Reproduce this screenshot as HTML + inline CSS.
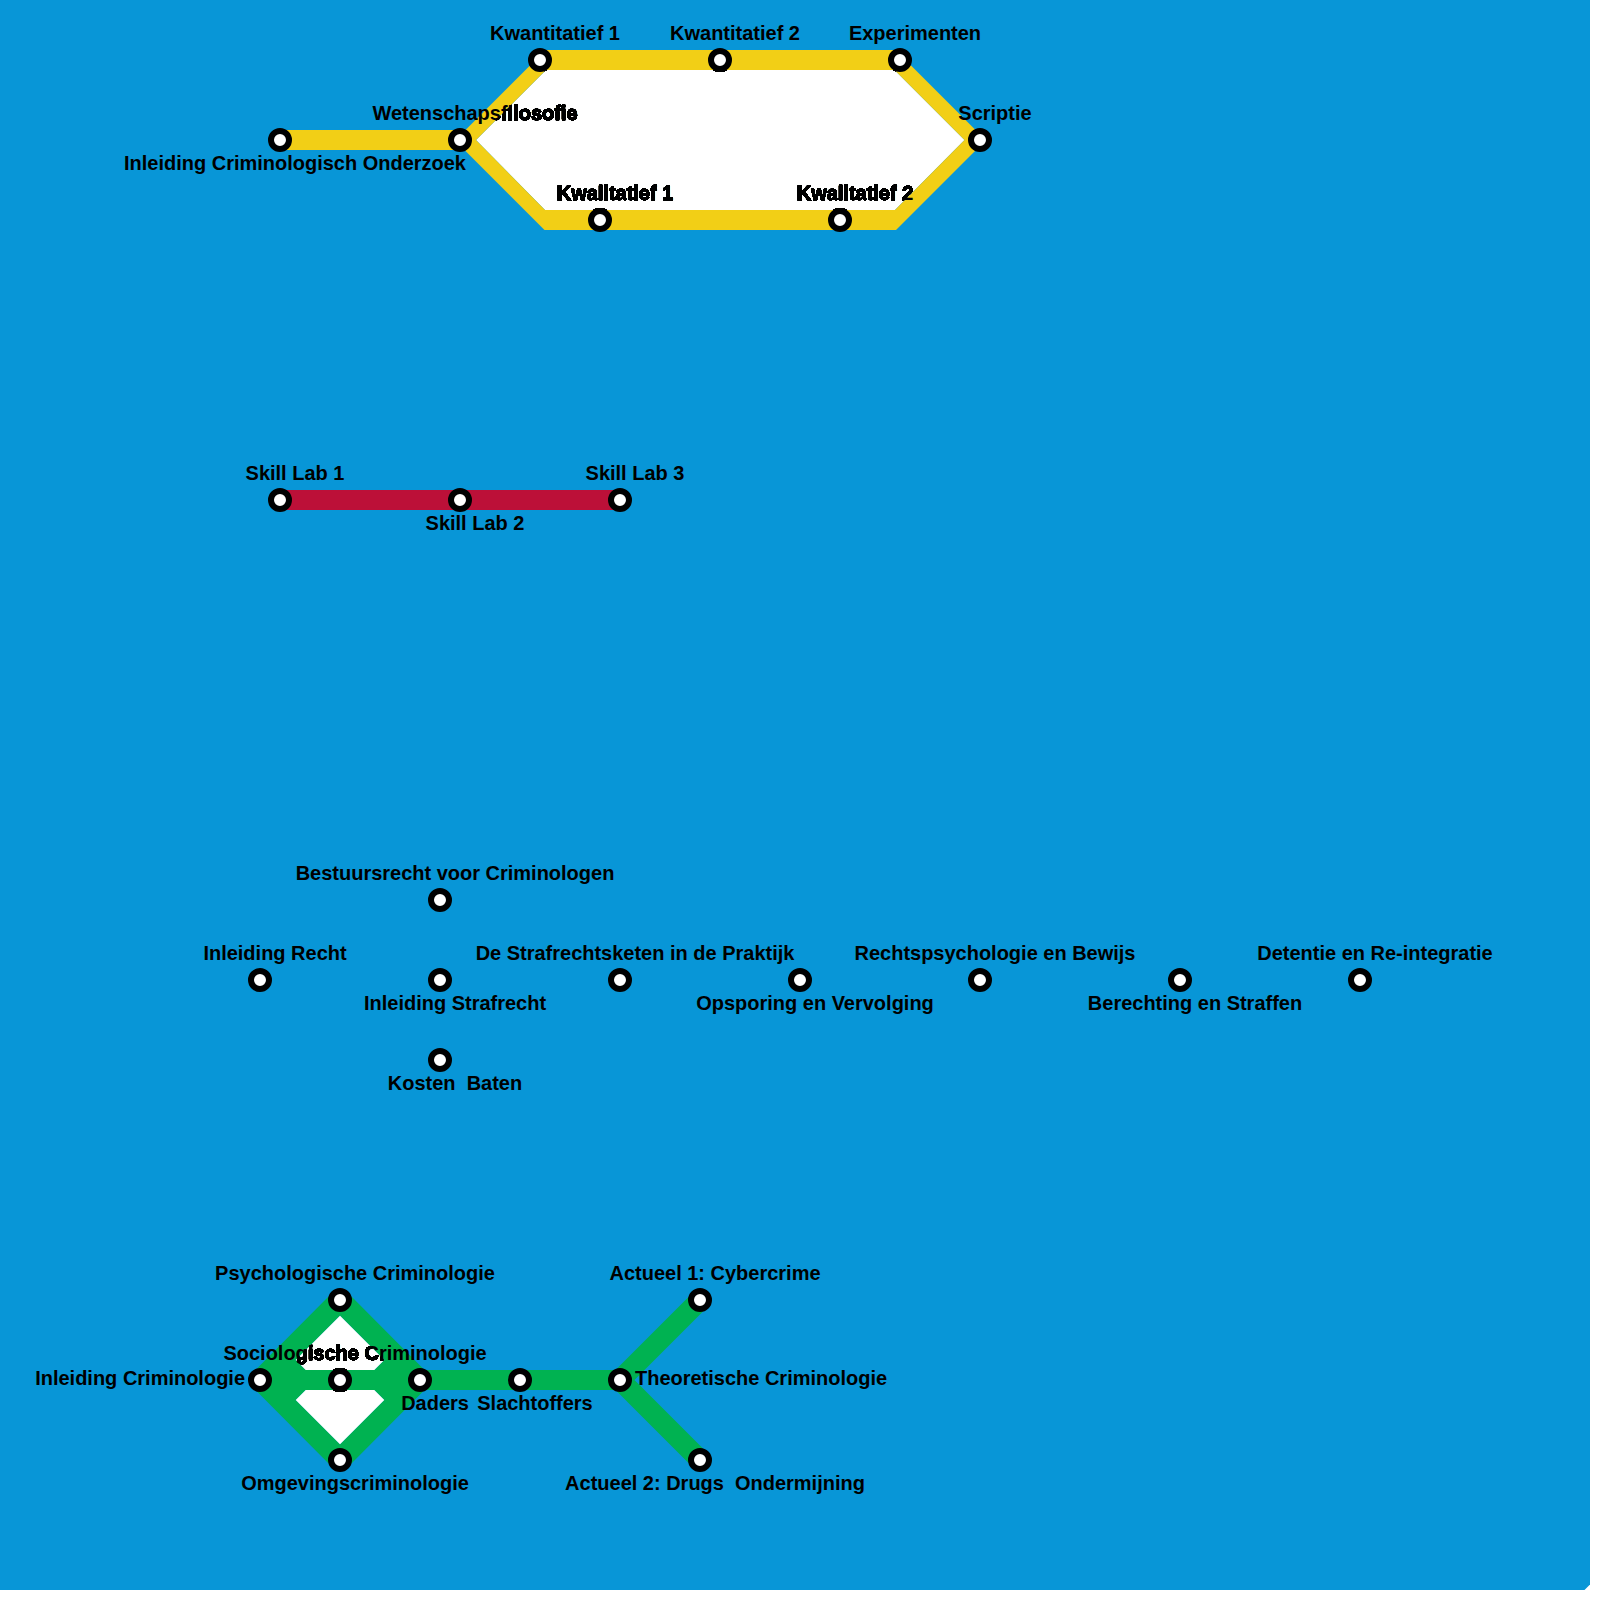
<!DOCTYPE html>
<html><head><meta charset="utf-8"><title>Metro map</title>
<style>
html,body{margin:0;padding:0;background:#fff;}
body{width:1600px;height:1600px;overflow:hidden;}
svg{display:block;}
text{font-family:"Liberation Sans",sans-serif;font-weight:bold;font-size:20px;fill:#000;white-space:pre;}
.st circle{fill:#fff;stroke:#000;stroke-width:6;}
.thb text{stroke:#000;stroke-width:0.3px;}
</style></head><body>
<svg width="1600" height="1600" viewBox="0 0 1600 1600" xml:space="preserve">
<defs><clipPath id="wc"><polygon points="476,140 546,70 894.5,70 964.5,140 895,210 545,210" fill="#000"/><polygon points="340,1315.5 384.5,1360 374.5,1370 305.5,1370 295.5,1360" fill="#000"/><polygon points="340,1444.5 384.5,1400 374.5,1390 305.5,1390 295.5,1400" fill="#000"/></clipPath><filter id="th" filterUnits="userSpaceOnUse" x="0" y="0" width="1600" height="1600" color-interpolation-filters="sRGB"><feComponentTransfer><feFuncA type="linear" slope="60" intercept="0"/></feComponentTransfer></filter></defs>
<g><polygon points="0,0 1590,0 1590,1584.5 1584.5,1590 0,1590" fill="#0896d7"/>
<polygon points="476,140 546,70 894.5,70 964.5,140 895,210 545,210" fill="#fff"/>
<polygon points="340,1315.5 384.5,1360 374.5,1370 305.5,1370 295.5,1360" fill="#fff"/>
<polygon points="340,1444.5 384.5,1400 374.5,1390 305.5,1390 295.5,1400" fill="#fff"/>
<path fill="#f2cf16" fill-rule="evenodd" d="M280,130 L465.5,130 L545.5,50 L895.5,50 L975.5,130 L976,150 L896,230 L544.5,230 L464.5,150 L280,150 Z M476,140 L546,70 L894.5,70 L964.5,140 L895,210 L545,210 Z"/>
<rect x="280" y="490" width="340" height="20" fill="#bc1038"/>
<path fill="#00b251" fill-rule="evenodd" d="M254.5,1371 L334.5,1290.5 L345.5,1290.5 L425.5,1371 L425.5,1389 L345.5,1469.5 L334.5,1469.5 L254.5,1389 Z M340,1315.5 L384.5,1360 L374.5,1370 L305.5,1370 L295.5,1360 Z M340,1444.5 L384.5,1400 L374.5,1390 L305.5,1390 L295.5,1400 Z"/>
<rect x="420" y="1370" width="200" height="20" fill="#00b251"/>
<path d="M700,1300 L620,1380 L700,1460" fill="none" stroke="#00b251" stroke-width="20.5" stroke-linejoin="miter"/></g>
<g class="st"><circle cx="280" cy="140" r="9"/>
<circle cx="460" cy="140" r="9"/>
<circle cx="540" cy="60" r="9"/>
<circle cx="720" cy="60" r="9"/>
<circle cx="900" cy="60" r="9"/>
<circle cx="980" cy="140" r="9"/>
<circle cx="600" cy="220" r="9"/>
<circle cx="840" cy="220" r="9"/>
<circle cx="280" cy="500" r="9"/>
<circle cx="460" cy="500" r="9"/>
<circle cx="620" cy="500" r="9"/>
<circle cx="440" cy="900" r="9"/>
<circle cx="260" cy="980" r="9"/>
<circle cx="440" cy="980" r="9"/>
<circle cx="620" cy="980" r="9"/>
<circle cx="800" cy="980" r="9"/>
<circle cx="980" cy="980" r="9"/>
<circle cx="1180" cy="980" r="9"/>
<circle cx="1360" cy="980" r="9"/>
<circle cx="440" cy="1060" r="9"/>
<circle cx="260" cy="1380" r="9"/>
<circle cx="340" cy="1300" r="9"/>
<circle cx="340" cy="1380" r="9"/>
<circle cx="340" cy="1460" r="9"/>
<circle cx="420" cy="1380" r="9"/>
<circle cx="520" cy="1380" r="9"/>
<circle cx="620" cy="1380" r="9"/>
<circle cx="700" cy="1300" r="9"/>
<circle cx="700" cy="1460" r="9"/></g>
<g class="lbl"><text transform="translate(295 170) scale(1 1.045)" text-anchor="middle">Inleiding Criminologisch Onderzoek</text>
<text transform="translate(475 120) scale(1 1.045)" text-anchor="middle">Wetenschapsfilosofie</text>
<text transform="translate(555 40) scale(1 1.045)" text-anchor="middle">Kwantitatief 1</text>
<text transform="translate(735 40) scale(1 1.045)" text-anchor="middle">Kwantitatief 2</text>
<text transform="translate(915 40) scale(1 1.045)" text-anchor="middle">Experimenten</text>
<text transform="translate(995 120) scale(1 1.045)" text-anchor="middle">Scriptie</text>
<text transform="translate(615 200) scale(1 1.045)" text-anchor="middle">Kwalitatief 1</text>
<text transform="translate(855 200) scale(1 1.045)" text-anchor="middle">Kwalitatief 2</text>
<text transform="translate(295 480) scale(1 1.045)" text-anchor="middle">Skill Lab 1</text>
<text transform="translate(475 530) scale(1 1.045)" text-anchor="middle">Skill Lab 2</text>
<text transform="translate(635 480) scale(1 1.045)" text-anchor="middle">Skill Lab 3</text>
<text transform="translate(455 880) scale(1 1.045)" text-anchor="middle">Bestuursrecht voor Criminologen</text>
<text transform="translate(275 960) scale(1 1.045)" text-anchor="middle">Inleiding Recht</text>
<text transform="translate(455 1010) scale(1 1.045)" text-anchor="middle">Inleiding Strafrecht</text>
<text transform="translate(635 960) scale(1 1.045)" text-anchor="middle">De Strafrechtsketen in de Praktijk</text>
<text transform="translate(815 1010) scale(1 1.045)" text-anchor="middle">Opsporing en Vervolging</text>
<text transform="translate(995 960) scale(1 1.045)" text-anchor="middle">Rechtspsychologie en Bewijs</text>
<text transform="translate(1195 1010) scale(1 1.045)" text-anchor="middle">Berechting en Straffen</text>
<text transform="translate(1375 960) scale(1 1.045)" text-anchor="middle">Detentie en Re-integratie</text>
<text transform="translate(455 1090) scale(1 1.045)" text-anchor="middle">Kosten  Baten</text>
<text transform="translate(245 1385) scale(1 1.045)" text-anchor="end">Inleiding Criminologie</text>
<text transform="translate(355 1280) scale(1 1.045)" text-anchor="middle">Psychologische Criminologie</text>
<text transform="translate(355 1360) scale(1 1.045)" text-anchor="middle">Sociologische Criminologie</text>
<text transform="translate(355 1490) scale(1 1.045)" text-anchor="middle">Omgevingscriminologie</text>
<text transform="translate(435 1410) scale(1 1.045)" text-anchor="middle">Daders</text>
<text transform="translate(535 1410) scale(1 1.045)" text-anchor="middle">Slachtoffers</text>
<text transform="translate(635 1385) scale(1 1.045)" text-anchor="start">Theoretische Criminologie</text>
<text transform="translate(715 1280) scale(1 1.045)" text-anchor="middle">Actueel 1: Cybercrime</text>
<text transform="translate(715 1490) scale(1 1.045)" text-anchor="middle">Actueel 2: Drugs  Ondermijning</text></g>
<g clip-path="url(#wc)"><g filter="url(#th)" class="thb"><g class="st"><circle cx="280" cy="140" r="9"/>
<circle cx="460" cy="140" r="9"/>
<circle cx="540" cy="60" r="9"/>
<circle cx="720" cy="60" r="9"/>
<circle cx="900" cy="60" r="9"/>
<circle cx="980" cy="140" r="9"/>
<circle cx="600" cy="220" r="9"/>
<circle cx="840" cy="220" r="9"/>
<circle cx="280" cy="500" r="9"/>
<circle cx="460" cy="500" r="9"/>
<circle cx="620" cy="500" r="9"/>
<circle cx="440" cy="900" r="9"/>
<circle cx="260" cy="980" r="9"/>
<circle cx="440" cy="980" r="9"/>
<circle cx="620" cy="980" r="9"/>
<circle cx="800" cy="980" r="9"/>
<circle cx="980" cy="980" r="9"/>
<circle cx="1180" cy="980" r="9"/>
<circle cx="1360" cy="980" r="9"/>
<circle cx="440" cy="1060" r="9"/>
<circle cx="260" cy="1380" r="9"/>
<circle cx="340" cy="1300" r="9"/>
<circle cx="340" cy="1380" r="9"/>
<circle cx="340" cy="1460" r="9"/>
<circle cx="420" cy="1380" r="9"/>
<circle cx="520" cy="1380" r="9"/>
<circle cx="620" cy="1380" r="9"/>
<circle cx="700" cy="1300" r="9"/>
<circle cx="700" cy="1460" r="9"/></g><text transform="translate(295 170) scale(1 1.045)" text-anchor="middle">Inleiding Criminologisch Onderzoek</text>
<text transform="translate(475 120) scale(1 1.045)" text-anchor="middle">Wetenschapsfilosofie</text>
<text transform="translate(555 40) scale(1 1.045)" text-anchor="middle">Kwantitatief 1</text>
<text transform="translate(735 40) scale(1 1.045)" text-anchor="middle">Kwantitatief 2</text>
<text transform="translate(915 40) scale(1 1.045)" text-anchor="middle">Experimenten</text>
<text transform="translate(995 120) scale(1 1.045)" text-anchor="middle">Scriptie</text>
<text transform="translate(615 200) scale(1 1.045)" text-anchor="middle">Kwalitatief 1</text>
<text transform="translate(855 200) scale(1 1.045)" text-anchor="middle">Kwalitatief 2</text>
<text transform="translate(295 480) scale(1 1.045)" text-anchor="middle">Skill Lab 1</text>
<text transform="translate(475 530) scale(1 1.045)" text-anchor="middle">Skill Lab 2</text>
<text transform="translate(635 480) scale(1 1.045)" text-anchor="middle">Skill Lab 3</text>
<text transform="translate(455 880) scale(1 1.045)" text-anchor="middle">Bestuursrecht voor Criminologen</text>
<text transform="translate(275 960) scale(1 1.045)" text-anchor="middle">Inleiding Recht</text>
<text transform="translate(455 1010) scale(1 1.045)" text-anchor="middle">Inleiding Strafrecht</text>
<text transform="translate(635 960) scale(1 1.045)" text-anchor="middle">De Strafrechtsketen in de Praktijk</text>
<text transform="translate(815 1010) scale(1 1.045)" text-anchor="middle">Opsporing en Vervolging</text>
<text transform="translate(995 960) scale(1 1.045)" text-anchor="middle">Rechtspsychologie en Bewijs</text>
<text transform="translate(1195 1010) scale(1 1.045)" text-anchor="middle">Berechting en Straffen</text>
<text transform="translate(1375 960) scale(1 1.045)" text-anchor="middle">Detentie en Re-integratie</text>
<text transform="translate(455 1090) scale(1 1.045)" text-anchor="middle">Kosten  Baten</text>
<text transform="translate(245 1385) scale(1 1.045)" text-anchor="end">Inleiding Criminologie</text>
<text transform="translate(355 1280) scale(1 1.045)" text-anchor="middle">Psychologische Criminologie</text>
<text transform="translate(355 1360) scale(1 1.045)" text-anchor="middle">Sociologische Criminologie</text>
<text transform="translate(355 1490) scale(1 1.045)" text-anchor="middle">Omgevingscriminologie</text>
<text transform="translate(435 1410) scale(1 1.045)" text-anchor="middle">Daders</text>
<text transform="translate(535 1410) scale(1 1.045)" text-anchor="middle">Slachtoffers</text>
<text transform="translate(635 1385) scale(1 1.045)" text-anchor="start">Theoretische Criminologie</text>
<text transform="translate(715 1280) scale(1 1.045)" text-anchor="middle">Actueel 1: Cybercrime</text>
<text transform="translate(715 1490) scale(1 1.045)" text-anchor="middle">Actueel 2: Drugs  Ondermijning</text></g></g>
</svg>
</body></html>
